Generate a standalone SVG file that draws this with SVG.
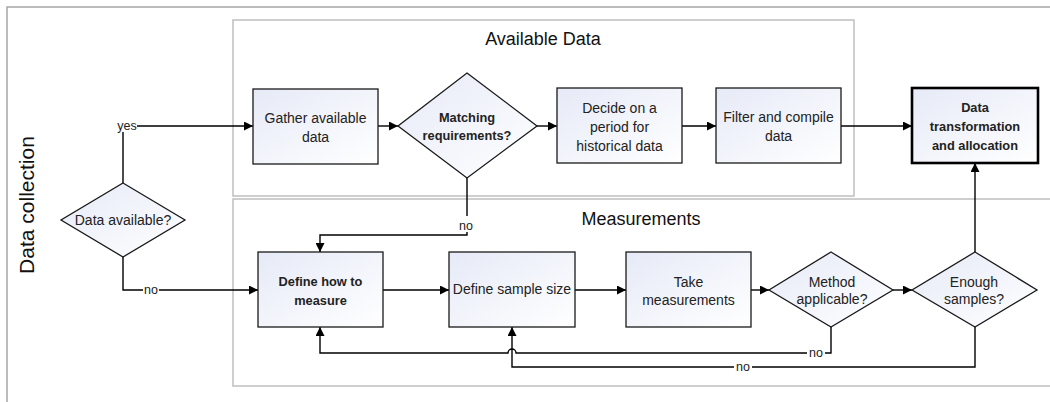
<svg xmlns="http://www.w3.org/2000/svg" width="1050" height="402" viewBox="0 0 1050 402">
<style>
.frame{fill:none;stroke:#a6a6a6;stroke-width:1.5}
.cont{fill:none;stroke:#bfbfbf;stroke-width:1.5}
.box{fill:url(#grad);stroke:#1a1a1a;stroke-width:1.3}
.thick{fill:url(#grad);stroke:#000;stroke-width:2.6}
.t{font-family:"Liberation Sans",Arial,sans-serif;font-size:14px;fill:#222;text-anchor:middle}
.b{font-weight:bold;font-size:12.8px}
.title{font-family:"Liberation Sans",Arial,sans-serif;font-size:18px;fill:#111;text-anchor:middle}
.lbl{font-family:"Liberation Sans",Arial,sans-serif;font-size:12.5px;fill:#222;text-anchor:middle}
.c{fill:none;stroke:#000;stroke-width:1.4}
.a{marker-end:url(#arr)}
.bg{fill:#fff}
</style>
<defs>
<linearGradient id="grad" x1="0" y1="0" x2="1" y2="1">
<stop offset="0" stop-color="#e6eaf7"/>
<stop offset="1" stop-color="#ffffff"/>
</linearGradient>
<marker id="arr" viewBox="0 0 10 10" refX="10" refY="5" markerWidth="10" markerHeight="9" markerUnits="userSpaceOnUse" orient="auto">
<path d="M0,0 L10,5 L0,10 z" fill="#000"/>
</marker>
</defs>

<g id="lane">
<rect class="frame" x="7" y="7" width="1100" height="500"/>
<text class="title" transform="translate(34,205) rotate(-90)" style="font-size:21px">Data collection</text>
</g>
<g id="available-data">
<rect class="cont" x="233" y="20" width="621" height="176"/>
<text class="title" x="543" y="45">Available Data</text>
</g>
<g id="measurements">
<rect class="cont" x="233" y="199" width="830" height="187"/>
<text class="title" x="641" y="225">Measurements</text>
</g>

<g id="connectors">
<path class="c a" d="M123,183 V126 H253"/>
<path class="c a" d="M378,126 H398"/>
<path class="c a" d="M537,126 H557"/>
<path class="c a" d="M682,126 H716"/>
<path class="c a" d="M841,126 H912"/>
<path class="c a" d="M467,177 V235 H320 V252"/>
<path class="c a" d="M123,257 V290 H258"/>
<path class="c a" d="M383,290 H449"/>
<path class="c a" d="M575,290 H626"/>
<path class="c a" d="M751,290 H769"/>
<path class="c a" d="M893,290 H912"/>
<path class="c a" d="M975,252 V163"/>
<path class="c a" d="M831,327 V353 H516 A4,4 0 0 0 508,353 H320 V327"/>
<path class="c a" d="M975,327 V367 H512 V327"/>
<rect class="bg" x="117" y="120" width="20" height="12"/>
<text class="lbl" x="127" y="130">yes</text>
<rect class="bg" x="143" y="284" width="16" height="11"/>
<text class="lbl" x="151" y="294">no</text>
<rect class="bg" x="457" y="216" width="19" height="16"/>
<text class="lbl" x="466" y="230">no</text>
<rect class="bg" x="807" y="347" width="18" height="11"/>
<text class="lbl" x="816" y="357">no</text>
<rect class="bg" x="734" y="361" width="18" height="11"/>
<text class="lbl" x="743" y="371">no</text>
</g>

<g id="data-available">
<polygon class="box" points="123,183 185,220 123,257 61,220"/>
<text class="t" x="123" y="225">Data available?</text>
</g>
<g id="gather">
<rect class="box" x="253" y="89" width="125" height="75"/>
<text class="t" x="315.5" y="123">Gather available</text>
<text class="t" x="315.5" y="142">data</text>
</g>
<g id="matching">
<polygon class="box" points="467,73 537,126 467,178 398,126"/>
<text class="t b" x="467" y="122">Matching</text>
<text class="t b" x="467" y="140">requirements?</text>
</g>
<g id="decide">
<rect class="box" x="557" y="88" width="125" height="75"/>
<text class="t" x="619.5" y="113">Decide on a</text>
<text class="t" x="619.5" y="132">period for</text>
<text class="t" x="619.5" y="151">historical data</text>
</g>
<g id="filter">
<rect class="box" x="716" y="88" width="125" height="75"/>
<text class="t" x="778.5" y="122">Filter and compile</text>
<text class="t" x="778.5" y="141">data</text>
</g>
<g id="transform">
<rect class="thick" x="912" y="88" width="126" height="75"/>
<text class="t b" x="975" y="112">Data</text>
<text class="t b" x="975" y="131">transformation</text>
<text class="t b" x="975" y="150">and allocation</text>
</g>
<g id="define-how">
<rect class="box" x="258" y="252" width="125" height="75"/>
<text class="t b" x="320.5" y="286">Define how to</text>
<text class="t b" x="320.5" y="305">measure</text>
</g>
<g id="sample-size">
<rect class="box" x="449" y="252" width="126" height="75"/>
<text class="t" x="512" y="294">Define sample size</text>
</g>
<g id="take">
<rect class="box" x="626" y="252" width="125" height="75"/>
<text class="t" x="688.5" y="287">Take</text>
<text class="t" x="688.5" y="305">measurements</text>
</g>
<g id="method">
<polygon class="box" points="831,252 893,290 831,327 769,290"/>
<text class="t" x="832" y="287">Method</text>
<text class="t" x="832" y="304">applicable?</text>
</g>
<g id="enough">
<polygon class="box" points="975,252 1037,290 975,327 912,290"/>
<text class="t" x="974" y="287">Enough</text>
<text class="t" x="974" y="304">samples?</text>
</g>
</svg>
